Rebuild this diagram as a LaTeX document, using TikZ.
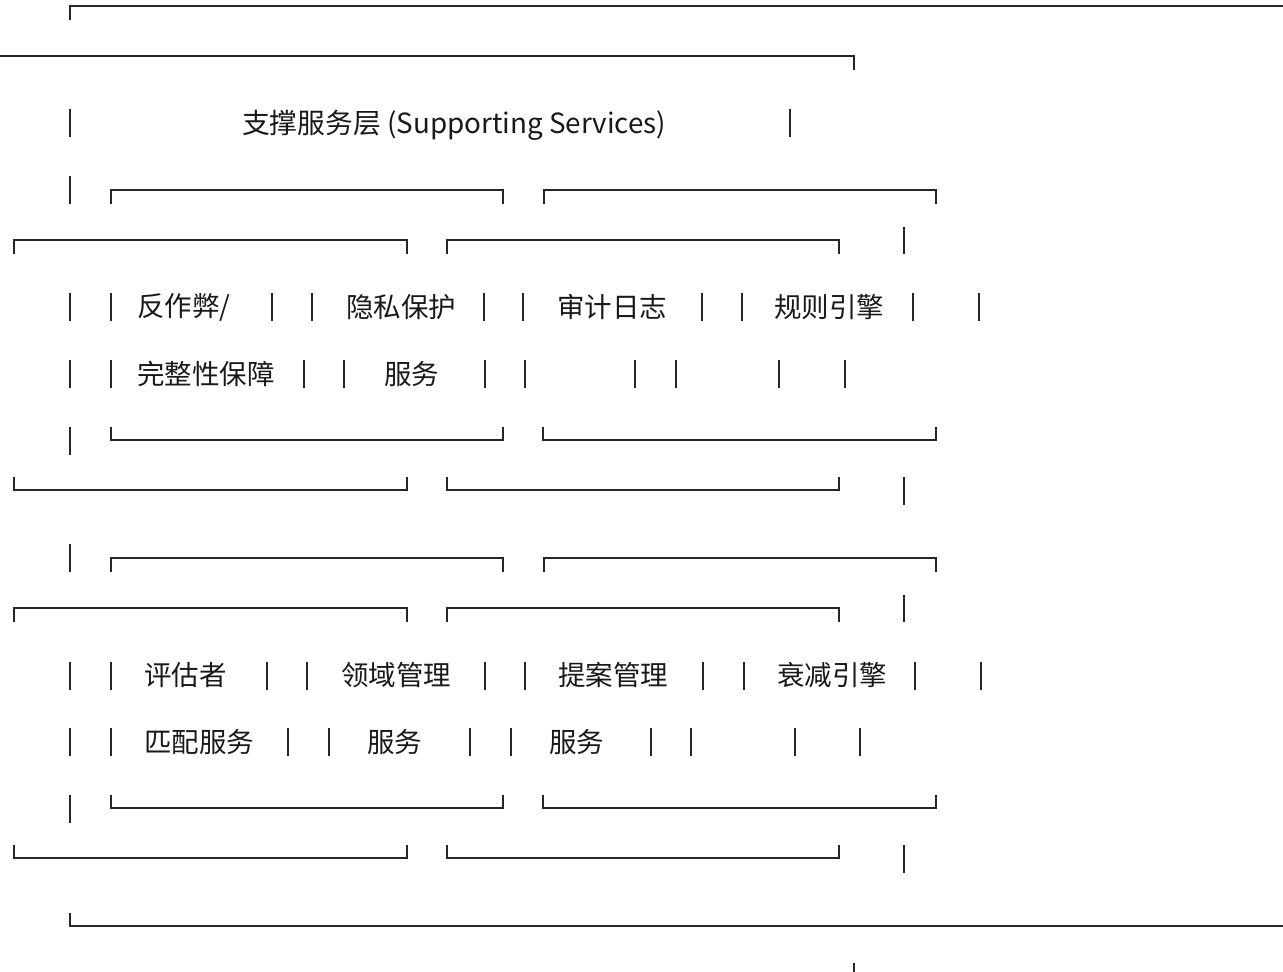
\documentclass[tikz,border=0pt]{standalone}
\usepackage{fontspec}
\setmainfont{Noto Sans CJK SC}
\begin{document}
\begin{tikzpicture}[x=1pt,y=-1pt,
  ln/.style={draw=black!85, line width=1.3pt},
  lbl/.style={anchor=west, inner sep=0pt, outer sep=0pt, font=\fontsize{27.5}{33}\selectfont, text=black!90}]
\useasboundingbox (0,0) rectangle (1283,972);
% top frame
\draw[ln] (70,20) -- (70,6) -- (1283,6);
\draw[ln] (0,56) -- (854,56) -- (854,70);
% title row
\draw[ln] (70,109) -- (70,137);
\draw[ln] (790,109) -- (790,137);
\node[lbl, font=\fontsize{27.8}{33}\selectfont] (title) at (242,125) {支撑服务层 (Supporting Services)};
% two blocks
\foreach \o in {0,368}{
  \begin{scope}[yshift=-\o pt]
  % row 4
  \draw[ln] (70,176) -- (70,204);
  \draw[ln] (111,204) -- (111,190) -- (503,190) -- (503,204);
  \draw[ln] (544,204) -- (544,190) -- (936,190) -- (936,204);
  % row 5
  \draw[ln] (14,254) -- (14,240) -- (407,240) -- (407,254);
  \draw[ln] (447,254) -- (447,240) -- (839,240) -- (839,254);
  \draw[ln] (904,227) -- (904,254);
  % row 8
  \draw[ln] (70,427) -- (70,455);
  \draw[ln] (111,427) -- (111,440) -- (503,440) -- (503,427);
  \draw[ln] (543,427) -- (543,440) -- (936,440) -- (936,427);
  % row 9
  \draw[ln] (14,477) -- (14,490) -- (407,490) -- (407,477);
  \draw[ln] (447,477) -- (447,490) -- (839,490) -- (839,477);
  \draw[ln] (904,477) -- (904,505);
  \end{scope}
}
% block A text rows
\foreach \x in {70,111,272,312,484,523,702,742,913,979}{\draw[ln] (\x,293) -- (\x,321);}
\foreach \x in {70,111,304,344,485,525,635,676,779,845}{\draw[ln] (\x,360) -- (\x,388);}
\node[lbl] (a1) at (137,307) {反作弊/};
\node[lbl] (a2) at (346,307) {隐私保护};
\node[lbl] (a3) at (557,307) {审计日志};
\node[lbl] (a4) at (774,307) {规则引擎};
\node[lbl] (a5) at (137,374) {完整性保障};
\node[lbl] (a6) at (384,374) {服务};
% block B text rows
\foreach \x in {70,111,267,307,485,525,703,744,915,981}{\draw[ln] (\x,662) -- (\x,690);}
\foreach \x in {70,111,288,329,470,511,651,691,795,860}{\draw[ln] (\x,728) -- (\x,756);}
\node[lbl] (b1) at (144,675) {评估者};
\node[lbl] (b2) at (341,675) {领域管理};
\node[lbl] (b3) at (558,675) {提案管理};
\node[lbl] (b4) at (777,675) {衰减引擎};
\node[lbl] (b5) at (144,742) {匹配服务};
\node[lbl] (b6) at (367,742) {服务};
\node[lbl] (b7) at (549,742) {服务};
% bottom frame
\draw[ln] (70,913) -- (70,926) -- (1283,926);
\draw[ln] (854,963) -- (854,972);
\end{tikzpicture}
\end{document}
